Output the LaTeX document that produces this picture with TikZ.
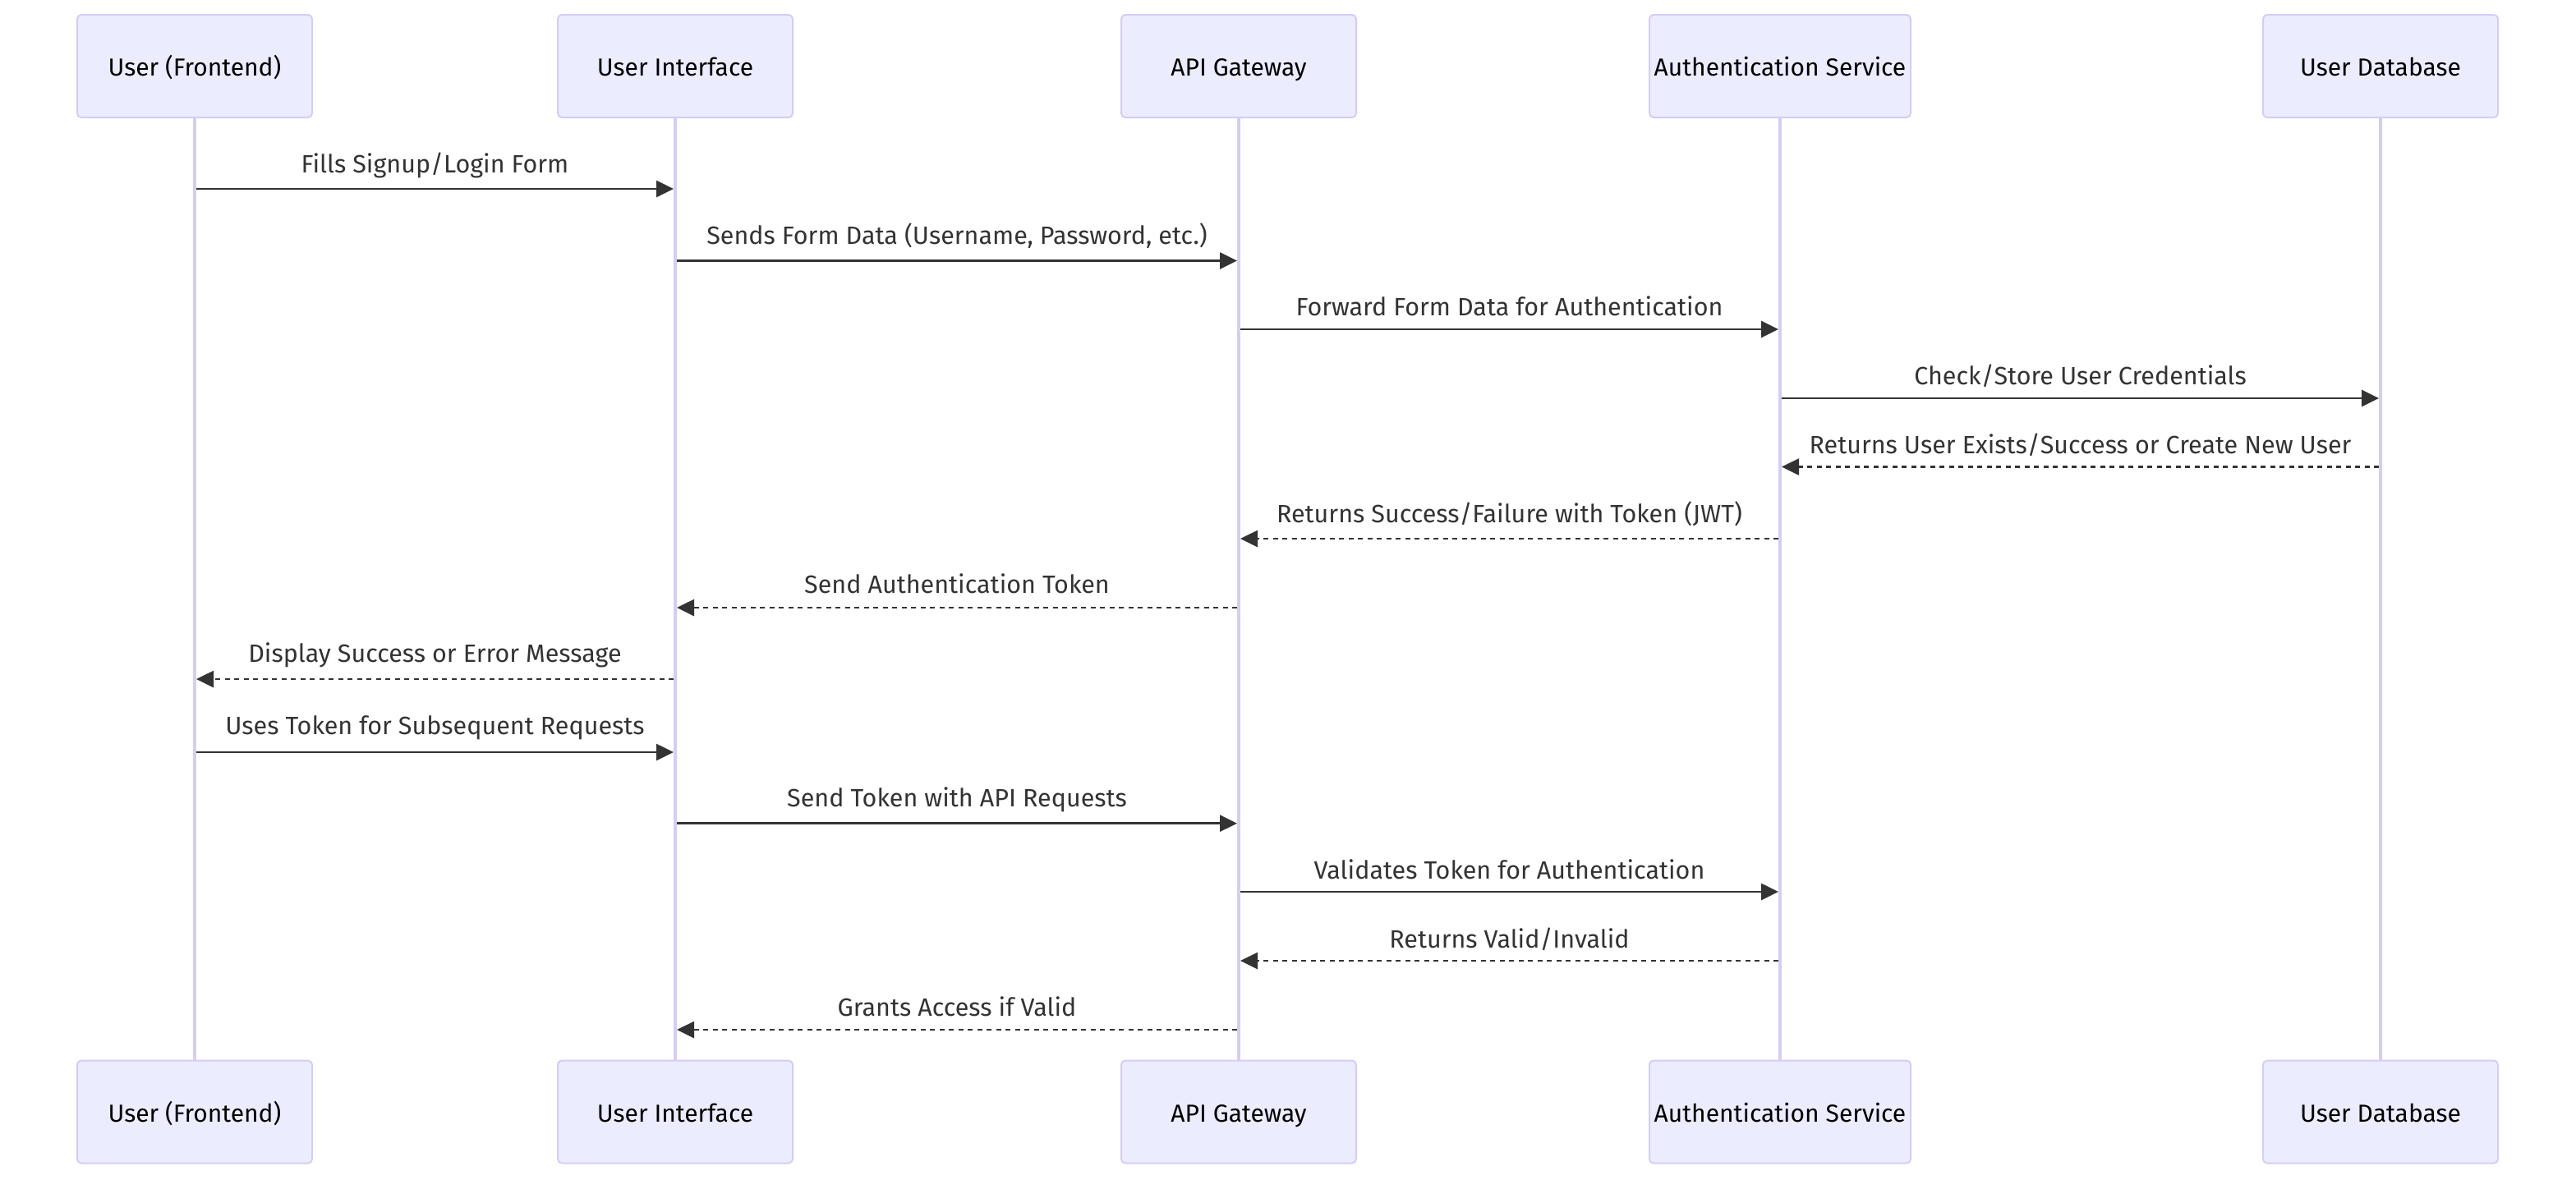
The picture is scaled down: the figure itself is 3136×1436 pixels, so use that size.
\documentclass[tikz,border=0pt]{standalone}
\usepackage{fontspec}
\setmainfont{Fira Sans}
\usetikzlibrary{arrows.meta}
\definecolor{actfill}{HTML}{ECECFF}
\definecolor{actline}{RGB}{214,204,244}
\definecolor{sig}{HTML}{333333}
\newcommand{\dfont}{\fontsize{30.5}{36}\selectfont}
\newcommand{\afont}{\fontsize{30}{36}\selectfont}
\begin{document}
\begin{tikzpicture}[x=1pt,y=-1pt,
  actor/.style={draw=actline, line width=2pt, fill=actfill, rounded corners=5pt,
    minimum width=286pt, minimum height=125pt, inner sep=0pt, font=\afont, text=black,
    text height=28pt, text depth=4pt},
  wideactor/.style={actor, minimum width=318pt},
  life/.style={draw=actline, line width=3.5pt},
  msg/.style={draw=sig, line width=2.7pt, shorten <=2pt, shorten >=2pt,
    -{Triangle[length=21pt,width=20pt]}},
  reply/.style={msg, dash pattern=on 6pt off 5.5pt},
  lbl/.style={font=\dfont, text=sig, inner sep=0pt, anchor=base, midway}]
\useasboundingbox (0,0) rectangle (3136,1436);
% top actors
\node[actor] (uf) at (237,80.5) {User (Frontend)};
\node[actor] (ui) at (822,80.5) {User Interface};
\node[actor] (api) at (1508,80.5) {API Gateway};
\node[wideactor] (auth) at (2167,80.5) {Authentication Service};
\node[actor] (db) at (2898,80.5) {User Database};
% bottom actors
\node[actor] (ufb) at (237,1354) {User (Frontend)};
\node[actor] (uib) at (822,1354) {User Interface};
\node[actor] (apib) at (1508,1354) {API Gateway};
\node[wideactor] (authb) at (2167,1354) {Authentication Service};
\node[actor] (dbb) at (2898,1354) {User Database};
% lifelines
\draw[life] (uf.south) -- (ufb.north);
\draw[life] (ui.south) -- (uib.north);
\draw[life] (api.south) -- (apib.north);
\draw[life] (auth.south) -- (authb.north);
\draw[life] (db.south) -- (dbb.north);
% messages
\draw[msg] (uf.south |- 0,230) -- (ui.south |- 0,230)
  node[lbl, yshift=20pt] {Fills Signup/Login Form};
\draw[msg] (ui.south |- 0,317.5) -- (api.south |- 0,317.5)
  node[lbl, yshift=20.5pt] {Sends Form Data (Username, Password, etc.)};
\draw[msg] (api.south |- 0,401) -- (auth.south |- 0,401)
  node[lbl, yshift=17pt] {Forward Form Data for Authentication};
\draw[msg] (auth.south |- 0,485) -- (db.south |- 0,485)
  node[lbl, yshift=17pt] {Check/Store User Credentials};
\draw[reply] (db.south |- 0,568.5) -- (auth.south |- 0,568.5)
  node[lbl, yshift=16.5pt] {Returns User Exists/Success or Create New User};
\draw[reply] (auth.south |- 0,656) -- (api.south |- 0,656)
  node[lbl, yshift=20pt] {Returns Success/Failure with Token (JWT)};
\draw[reply] (api.south |- 0,740) -- (ui.south |- 0,740)
  node[lbl, yshift=18pt] {Send Authentication Token};
\draw[reply] (ui.south |- 0,827) -- (uf.south |- 0,827)
  node[lbl, yshift=21pt] {Display Success or Error Message};
\draw[msg] (uf.south |- 0,916) -- (ui.south |- 0,916)
  node[lbl, yshift=22pt] {Uses Token for Subsequent Requests};
\draw[msg] (ui.south |- 0,1002.7) -- (api.south |- 0,1002.7)
  node[lbl, yshift=20.7pt] {Send Token with API Requests};
\draw[msg] (api.south |- 0,1086) -- (auth.south |- 0,1086)
  node[lbl, yshift=16pt] {Validates Token for Authentication};
\draw[reply] (auth.south |- 0,1170) -- (api.south |- 0,1170)
  node[lbl, yshift=16pt] {Returns Valid/Invalid};
\draw[reply] (api.south |- 0,1254) -- (ui.south |- 0,1254)
  node[lbl, yshift=17pt] {Grants Access if Valid};
\end{tikzpicture}
\end{document}
